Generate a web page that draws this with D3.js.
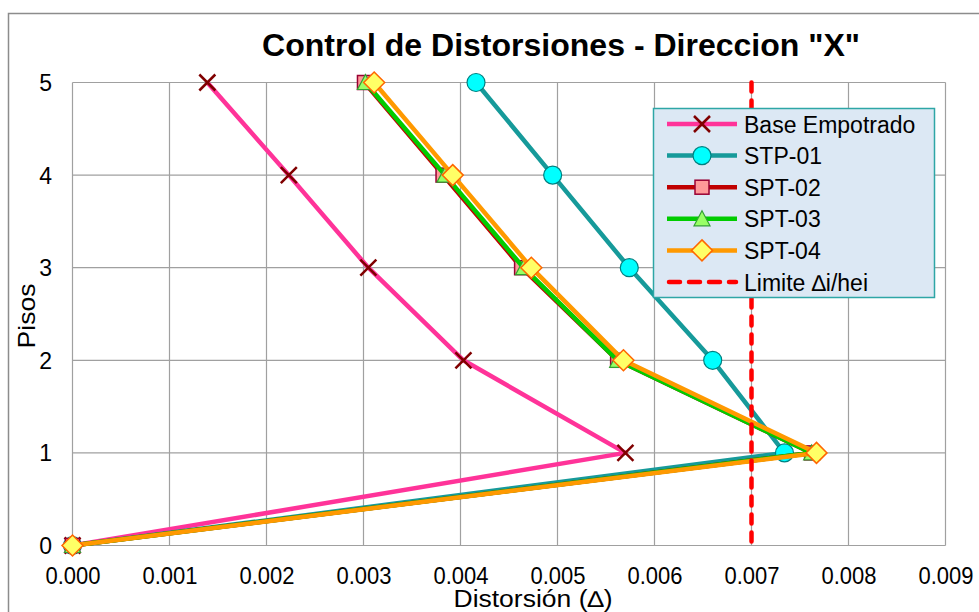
<!DOCTYPE html>
<html><head><meta charset="utf-8">
<script src="https://cdn.jsdelivr.net/npm/d3@7"></script>
<style>body{margin:0;background:#fff;} svg{display:block;font-family:"Liberation Sans",Arial,sans-serif;}</style>
</head><body>
<script>
const floors = [0, 1, 2, 3, 4, 5];
const seriesNames = ["Base Empotrado", "STP-01", "SPT-02", "SPT-03", "SPT-04"];
const baseEmpotrado = [0, 0.00570, 0.00403, 0.00305, 0.00223, 0.00139];
const stp01 = [0, 0.00734, 0.00660, 0.00574, 0.00495, 0.00416];
const spt02 = [0, 0.00762, 0.00562, 0.00463, 0.00382, 0.00301];
const spt03 = [0, 0.00762, 0.00562, 0.00465, 0.00384, 0.00302];
const spt04 = [0, 0.00767, 0.00568, 0.00473, 0.00392, 0.00311];
const limitValue = 0.007;
const limitName = "Limite \u2206i/hei";
const xTicks = [0, 0.001, 0.002, 0.003, 0.004, 0.005, 0.006, 0.007, 0.008, 0.009];
const yTicks = [0, 1, 2, 3, 4, 5];

const W = 979, H = 612;
const svg = d3.select("body").append("svg").attr("width", W).attr("height", H);

// outer chart border
svg.append("rect").attr("x", 8.5).attr("y", 13.5).attr("width", 1000).attr("height", 700)
  .attr("fill", "#fff").attr("stroke", "#8c8c8c").attr("stroke-width", 1.5);

const x = d3.scaleLinear().domain([0, 0.009]).range([72.5, 945.5]);
const y = d3.scaleLinear().domain([0, 5]).range([545.5, 82.5]);

// grid
const g = svg.append("g");
g.selectAll(".vg").data(xTicks).join("line")
  .attr("x1", d => x(d)).attr("x2", d => x(d)).attr("y1", y(0)).attr("y2", y(5))
  .attr("stroke", "#a0a0a0").attr("stroke-width", 1.2);
g.selectAll(".hg").data(yTicks).join("line")
  .attr("x1", x(0)).attr("x2", x(0.009)).attr("y1", d => y(d)).attr("y2", d => y(d))
  .attr("stroke", "#a0a0a0").attr("stroke-width", 1.2);

// axes (tick labels via d3 axes)
const xAxis = svg.append("g").attr("transform", `translate(0,${y(0)})`)
  .call(d3.axisBottom(x).tickValues(xTicks).tickFormat(d3.format(".3f")).tickSize(0).tickPadding(0));
xAxis.select(".domain").remove();
xAxis.selectAll("text").attr("font-size", 24).attr("fill", "#000")
  .attr("y", 38).attr("dy", 0)
  .attr("textLength", 55).attr("lengthAdjust", "spacingAndGlyphs")
  .attr("font-family", "Liberation Sans, Arial, sans-serif");

const yAxis = svg.append("g").attr("transform", `translate(52,0)`)
  .call(d3.axisLeft(y).tickValues(yTicks).tickFormat(d3.format("d")).tickSize(0).tickPadding(0));
yAxis.select(".domain").remove();
yAxis.selectAll("text").attr("font-size", 23).attr("fill", "#000")
  .attr("x", 0).attr("dy", "0.35em").attr("text-anchor", "end")
  .attr("font-family", "Liberation Sans, Arial, sans-serif");

// titles
svg.append("text").attr("x", 561).attr("y", 56).attr("text-anchor", "middle")
  .attr("font-size", 32).attr("font-weight", "bold")
  .attr("textLength", 598).attr("lengthAdjust", "spacingAndGlyphs")
  .text('Control de Distorsiones - Direccion "X"');
svg.append("text").attr("x", 533).attr("y", 607).attr("text-anchor", "middle")
  .attr("font-size", 23).attr("textLength", 159).attr("lengthAdjust", "spacingAndGlyphs")
  .text("Distorsión (\u2206)");
svg.append("text").attr("transform", "translate(35,316) rotate(-90)").attr("text-anchor", "middle")
  .attr("font-size", 24).attr("textLength", 65).attr("lengthAdjust", "spacingAndGlyphs")
  .text("Pisos");

// series definitions
const styles = [
  {name: seriesNames[0], vals: baseEmpotrado, color: "#ff3399", w: 4.5, marker: "x", fill: "none", stroke: "#800000"},
  {name: seriesNames[1], vals: stp01, color: "#169a9a", w: 4.5, marker: "circle", fill: "#00ffff", stroke: "#008080"},
  {name: seriesNames[2], vals: spt02, color: "#c00000", w: 4.5, marker: "square", fill: "#ff9999", stroke: "#990033"},
  {name: seriesNames[3], vals: spt03, color: "#00cc00", w: 4.5, marker: "triangle", fill: "#99ff66", stroke: "#33a033"},
  {name: seriesNames[4], vals: spt04, color: "#ff9900", w: 4.5, marker: "diamond", fill: "#ffff66", stroke: "#ff6600"}
];

function drawMarker(sel, type, fill, stroke) {
  if (type === "x") {
    sel.append("path").attr("d", "M-8,-8L8,8M-8,8L8,-8").attr("stroke", stroke).attr("stroke-width", 2.5).attr("fill", "none");
  } else if (type === "circle") {
    sel.append("circle").attr("r", 9).attr("fill", fill).attr("stroke", stroke).attr("stroke-width", 1.2);
  } else if (type === "square") {
    sel.append("rect").attr("x", -7).attr("y", -7).attr("width", 14).attr("height", 14).attr("fill", fill).attr("stroke", stroke).attr("stroke-width", 1.5);
  } else if (type === "triangle") {
    sel.append("path").attr("d", "M0,-8L8,7L-8,7Z").attr("fill", fill).attr("stroke", stroke).attr("stroke-width", 1.2);
  } else if (type === "diamond") {
    sel.append("path").attr("d", "M0,-10.5L10.5,0L0,10.5L-10.5,0Z").attr("fill", fill).attr("stroke", stroke).attr("stroke-width", 1.5);
  }
}

const line = d3.line().x(d => x(d[0])).y(d => y(d[1]));
styles.forEach(s => {
  const pts = floors.map((f, i) => [s.vals[i], f]);
  svg.append("path").datum(pts).attr("d", line).attr("fill", "none")
    .attr("stroke", s.color).attr("stroke-width", s.w).attr("stroke-linejoin", "round");
  pts.forEach(p => {
    const m = svg.append("g").attr("transform", `translate(${x(p[0])},${y(p[1])})`);
    drawMarker(m, s.marker, s.fill, s.stroke);
  });
});

// limit line
svg.append("line").attr("x1", x(limitValue)).attr("x2", x(limitValue)).attr("y1", y(5)).attr("y2", y(0))
  .attr("stroke", "#ff0000").attr("stroke-width", 4.5).attr("stroke-dasharray", "9,9").attr("stroke-linecap", "round");

// legend
const lg = svg.append("g");
lg.append("rect").attr("x", 653.5).attr("y", 108.5).attr("width", 281).attr("height", 189)
  .attr("fill", "#dce8f4").attr("stroke", "#2ea6a6").attr("stroke-width", 1.5);
const legendItems = styles.map(s => s).concat([{name: limitName, color: "#ff0000", w: 4.5, marker: "dash"}]);
legendItems.forEach((s, i) => {
  const cy = 124 + i * 31.6;
  if (s.marker === "dash") {
    lg.append("line").attr("x1", 669).attr("x2", 736).attr("y1", cy).attr("y2", cy)
      .attr("stroke", s.color).attr("stroke-width", 4.5).attr("stroke-dasharray", "11,9").attr("stroke-linecap", "round");
  } else {
    lg.append("line").attr("x1", 667).attr("x2", 737).attr("y1", cy).attr("y2", cy)
      .attr("stroke", s.color).attr("stroke-width", s.w);
    const m = lg.append("g").attr("transform", `translate(702,${cy})`);
    drawMarker(m, s.marker, s.fill, s.stroke);
  }
  lg.append("text").attr("x", 744).attr("y", cy + 8.5).attr("font-size", 23).attr("fill", "#000").text(s.name);
});
</script>
</body></html>
